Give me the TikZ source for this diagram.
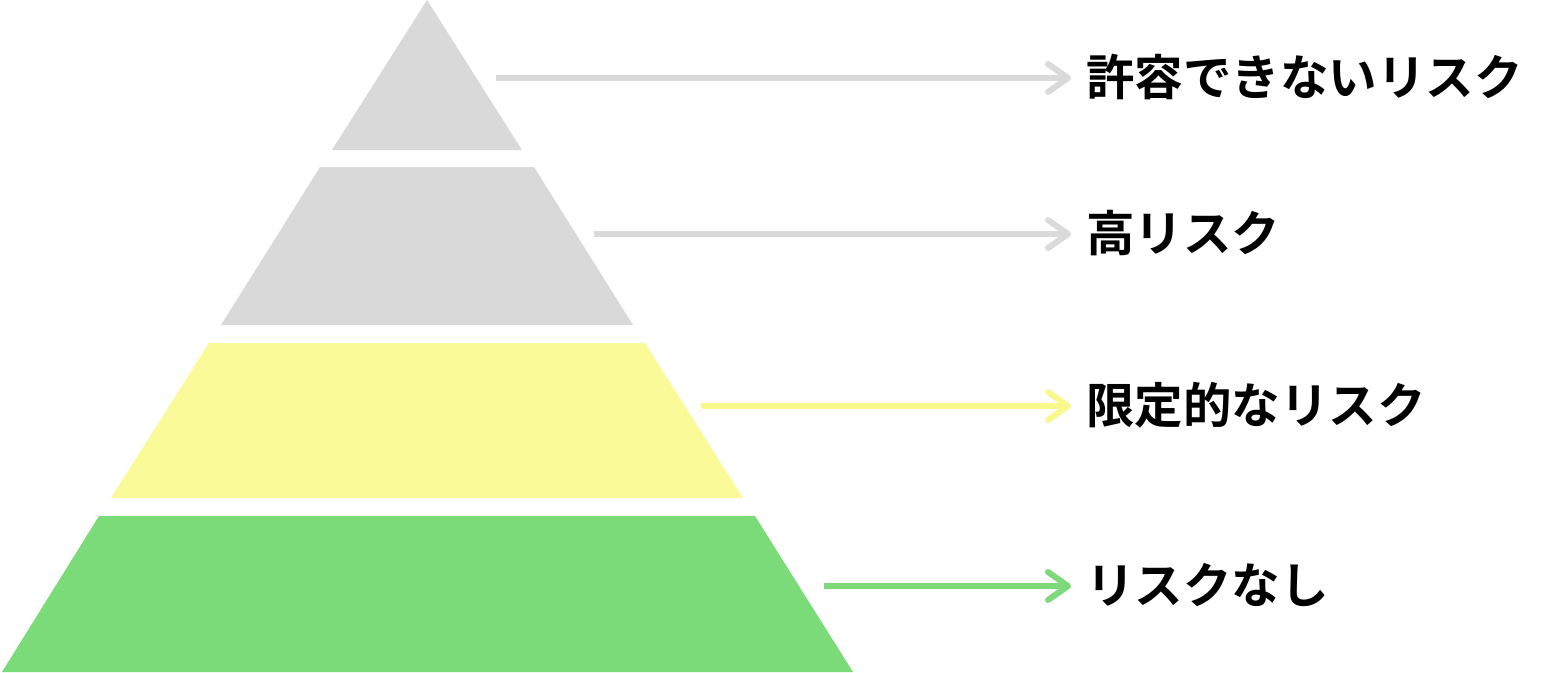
\documentclass[tikz,border=0pt]{standalone}
\usepackage{fontspec}
\newfontfamily\jp{Noto Sans CJK JP}[BoldFont={* Bold}]
\usetikzlibrary{arrows.meta}
\definecolor{tgray}{HTML}{D9D9D9}
\definecolor{tyellow}{HTML}{FAFA98}
\definecolor{tgreen}{HTML}{7BDB78}
\definecolor{agray}{HTML}{DADADA}
\definecolor{ayellow}{HTML}{F8F88C}
\definecolor{agreen}{HTML}{7ED97A}
\begin{document}
\begin{tikzpicture}[x=1pt,y=-1pt,
  conn/.style={line width=6pt,
    -{Straight Barb[round,length=20pt,width=28pt,line width=6pt]}},
  lbl/.style={anchor=west,inner sep=0pt,font=\jp\bfseries\fontsize{48.5}{52}\selectfont,text=black}]
\useasboundingbox (0,0) rectangle (1541,672);
\fill[white] (0,0) rectangle (1541,672);
% tiers
\fill[tgray]   (427,0) -- (522,150) -- (332,150) -- cycle;
\fill[tgray]   (320,167) -- (534,167) -- (633,325) -- (221,325) -- cycle;
\fill[tyellow] (209,343) -- (645,343) -- (743,498) -- (111,498) -- cycle;
\fill[tgreen]  (99,516) -- (755,516) -- (853,672) -- (2,672) -- cycle;
% anchors
\coordinate (s1) at (496,78);
\coordinate (s2) at (594,234);
\coordinate (s3) at (701,406);
\coordinate (s4) at (824,586);
\node[lbl] (l1) at (1086,77) {許容できないリスク};
\node[lbl] (l2) at (1086,233) {高リスク};
\node[lbl] (l3) at (1086,405) {限定的なリスク};
\node[lbl] (l4) at (1086,585) {リスクなし};
\coordinate (e1) at (1071,78);
\coordinate (e2) at (1071,234);
\coordinate (e3) at (1071,406);
\coordinate (e4) at (1071,586);
\draw[conn,agray] (s1) -- (e1);
\draw[conn,agray] (s2) -- (e2);
\draw[conn,ayellow] (s3) -- (e3);
\draw[conn,agreen] (s4) -- (e4);
\end{tikzpicture}
\end{document}
